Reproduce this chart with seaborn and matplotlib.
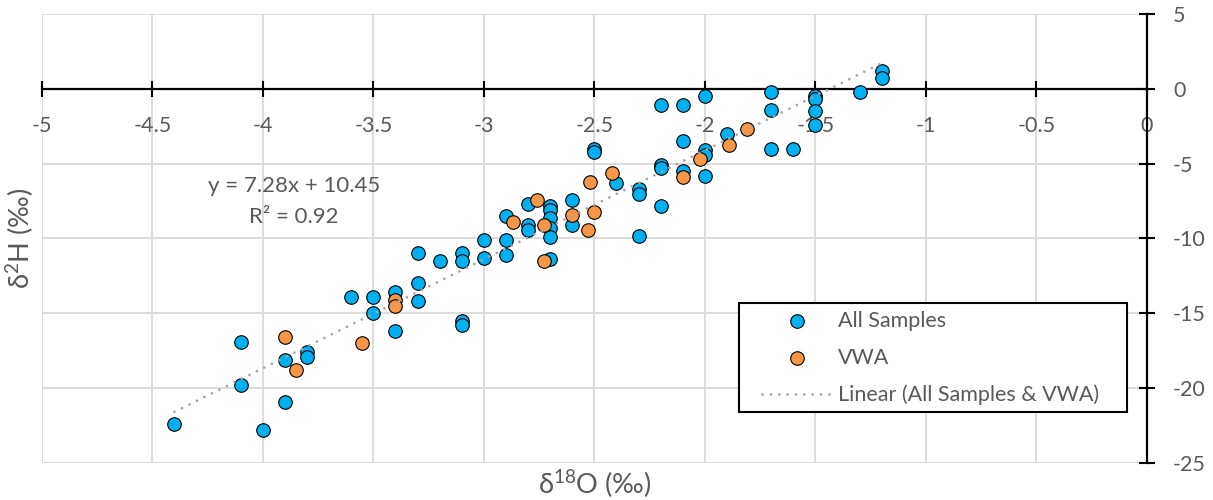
import numpy as np
import pandas as pd
import matplotlib
matplotlib.use("Agg")
import matplotlib.pyplot as plt
from matplotlib.patches import Rectangle
from matplotlib.ticker import FuncFormatter
import seaborn as sns

# All Samples (d18O, d2H in permil)
all_o18 = [-4.4, -4.1, -4.1, -4.0, -3.9, -3.9, -3.8, -3.8, -3.6, -3.5,
           -3.5, -3.4, -3.4, -3.3, -3.3, -3.3, -3.2, -3.1, -3.1, -3.1,
           -3.1, -3.0, -3.0, -2.9, -2.9, -2.9, -2.8, -2.8, -2.8, -2.7,
           -2.7, -2.7, -2.7, -2.7, -2.7, -2.6, -2.6, -2.5, -2.5, -2.4,
           -2.3, -2.3, -2.3, -2.2, -2.2, -2.2, -2.2, -2.1, -2.1, -2.1,
           -2.0, -2.0, -2.0, -2.0, -1.9, -1.7, -1.7, -1.7, -1.6, -1.5,
           -1.5, -1.5, -1.5, -1.3, -1.2, -1.2]
all_h2 = [-22.4, -16.9, -19.8, -22.8, -18.1, -20.9, -17.6, -17.9, -13.9, -13.9,
          -15.0, -13.6, -16.2, -11.0, -13.0, -14.2, -11.5, -11.0, -11.5, -15.5,
          -15.8, -10.1, -11.3, -8.5, -10.1, -11.1, -7.7, -9.1, -9.4, -7.8,
          -8.1, -8.6, -9.3, -9.9, -11.4, -7.4, -9.1, -4.0, -4.2, -6.3,
          -6.7, -7.0, -9.8, -1.1, -5.1, -5.3, -7.8, -1.1, -3.5, -5.5,
          -0.5, -4.1, -4.4, -5.8, -3.0, -0.2, -1.4, -4.0, -4.0, -0.5,
          -0.7, -1.5, -2.4, -0.2, 1.2, 0.7]

# VWA
vwa_o18 = [-3.9, -3.85, -3.55, -3.4, -3.4, -2.87, -2.76, -2.73, -2.73,
           -2.6, -2.53, -2.5, -2.52, -2.42, -2.1, -2.02, -1.89, -1.81]
vwa_h2 = [-16.6, -18.8, -17.0, -14.1, -14.5, -8.9, -7.4, -9.1, -11.5,
          -8.4, -9.4, -8.2, -6.2, -5.6, -5.9, -4.7, -3.75, -2.7]

# trendline reported in the chart
slope, intercept, r2 = 7.28, 10.45, 0.92

sns.set_theme(style="white")
plt.rcParams['font.family'] = ['Lato', 'DejaVu Sans']
plt.rcParams['axes.unicode_minus'] = False
plt.rcParams['mathtext.fontset'] = 'custom'
plt.rcParams['mathtext.rm'] = 'Lato'
plt.rcParams['mathtext.it'] = 'Lato:italic'
plt.rcParams['mathtext.bf'] = 'Lato:bold'

grey = '#595959'
fig, ax = plt.subplots(figsize=(12.13, 5), dpi=100)
fig.subplots_adjust(left=0.0344, right=0.9456, top=0.972, bottom=0.074)

samples = pd.DataFrame({'d18O': all_o18, 'd2H': all_h2})
vwa = pd.DataFrame({'d18O': vwa_o18, 'd2H': vwa_h2})

sns.scatterplot(data=samples, x='d18O', y='d2H', color='#00B0F0', edgecolor='black',
                linewidth=0.8, s=95, ax=ax, label='All Samples', zorder=3)
sns.scatterplot(data=vwa, x='d18O', y='d2H', color='#F79646', edgecolor='black',
                linewidth=0.8, s=95, ax=ax, label='VWA', zorder=4)

both = pd.concat([samples, vwa])
fit = pd.DataFrame({'d18O': [both.d18O.min(), both.d18O.max()]})
fit['d2H'] = slope * fit.d18O + intercept
sns.lineplot(data=fit, x='d18O', y='d2H', color='#A6A6A6', linewidth=2,
             linestyle=(0, (0.01, 3)), dash_capstyle='round', ax=ax,
             label='Linear (All Samples & VWA)', zorder=5)

ax.text(-3.86, -6.89, f"y = {slope:.2f}x + {intercept:.2f}", ha='center', va='baseline',
        fontsize=16, color=grey)
ax.text(-3.86, -8.96, f"R² = {r2:.2f}", ha='center', va='baseline', fontsize=16, color=grey)

ax.set_xlim(-5, 0)
ax.set_ylim(-25, 5)
ax.set_xticks(np.arange(-5, 0.01, 0.5))
ax.set_yticks(np.arange(-25, 5.01, 5))
fmt = FuncFormatter(lambda v, p: f"{v:g}")
ax.xaxis.set_major_formatter(fmt)
ax.yaxis.set_major_formatter(fmt)
ax.grid(True, color='#D9D9D9', linewidth=1.3)
ax.set_axisbelow(True)

for s in ['left', 'top']:
    ax.spines[s].set_visible(False)
ax.spines['bottom'].set_position(('data', 0))
ax.spines['bottom'].set_color('black')
ax.spines['bottom'].set_linewidth(1.6)
ax.spines['right'].set_visible(True)
ax.spines['right'].set_color('black')
ax.spines['right'].set_linewidth(1.6)
ax.spines['bottom'].set_zorder(2.5)

ax.yaxis.tick_right()
ax.tick_params(axis='x', bottom=True, direction='inout', length=11.5, width=1.5,
               color='black', labelsize=15.5, labelcolor=grey, pad=13.5)
ax.tick_params(axis='y', right=True, direction='inout', length=11.5, width=1.5,
               color='black', labelsize=15.5, labelcolor=grey, pad=13)

ax.set_xlabel(r'δ$^{18}$O (‰)', fontsize=19.5, color=grey)
ax.set_ylabel(r'δ$^{2}$H (‰)', fontsize=19.5, color=grey)
ax.xaxis.set_label_coords(0.5, -0.012)
ax.yaxis.set_label_position('left')
ax.yaxis.set_label_coords(-0.0055, 0.5)

# legend box
ax.add_patch(Rectangle((0.6309, 0.1129), 0.351, 0.2434, transform=ax.transAxes,
                       facecolor='white', edgecolor='black', linewidth=1.5, zorder=6))
handles, labels = ax.get_legend_handles_labels()
leg = ax.legend(handles, labels, loc='upper left', bbox_to_anchor=(0.6517, 0.3385),
                borderaxespad=0, borderpad=0, frameon=False, fontsize=15.5,
                handlelength=3.25, handletextpad=0.28, labelspacing=0.78, labelcolor=grey)
leg.set_zorder(7)

fig.savefig('out.png', dpi=100)
